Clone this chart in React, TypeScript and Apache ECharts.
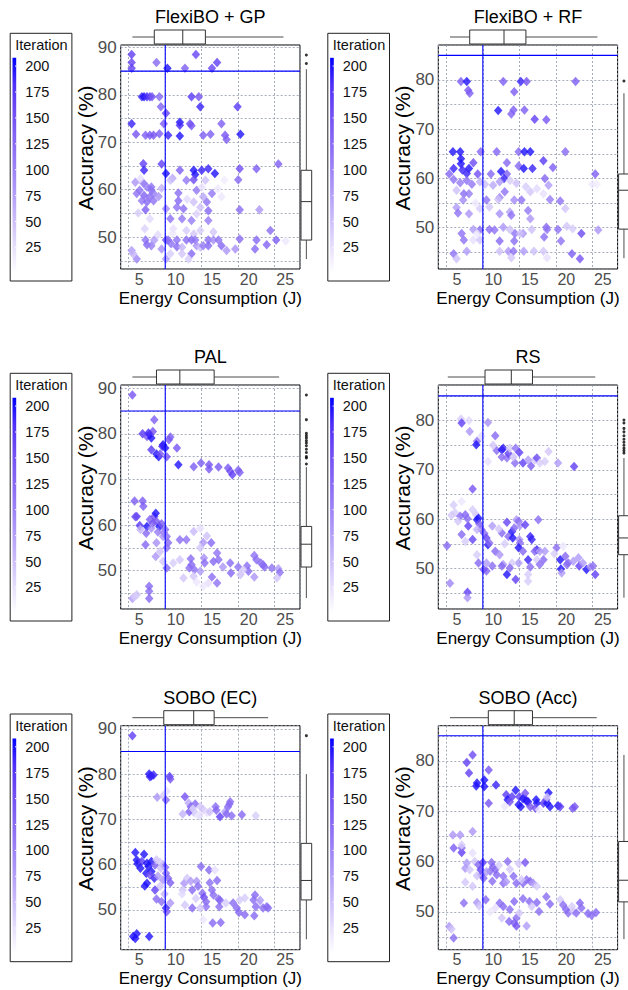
import React, { useEffect, useRef } from "react";
import * as echarts from "echarts";

type Pt = [number, number, number]; // [energy (J), accuracy (%), iteration]

const FONT = "'Liberation Sans', Arial, Helvetica, sans-serif";

const energyRange = [3.9, 28.46];
const energyThreshold = 10;
const accuracyThreshold = 85;
const iterationTicks = [25, 50, 75, 100, 125, 150, 175, 200];
const iterationMax = 208;
const iterationColors = ["#ffffff", "#e6defc", "#cbbcf9", "#b19cf7", "#9a80f5", "#8566f3", "#714cf3", "#4f30f6", "#0000ff"];

// ---------------- FlexiBO + GP ----------------
const gpPoints: Pt[] = [
  [5.4, 88.5, 170], [5.4, 86.8, 165], [5.4, 85.6, 170], [8.8, 86.8, 130], [10.3, 85.6, 198], [12.7, 85.6, 140], [14.2, 88.5, 165], [16.4, 85.6, 165], [17.1, 86.8, 170],
  [6.8, 79.6, 190], [7.1, 79.6, 198], [7.5, 79.6, 185], [7.9, 79.6, 175], [8.2, 79.6, 150], [9.2, 79.6, 130], [13.6, 79.6, 175], [14.6, 79.6, 150], [9.4, 77.5, 135], [14.8, 77.5, 190], [19.9, 77.5, 175], [10.1, 76.1, 170],
  [5.4, 73.9, 190], [9.8, 73.9, 140], [12.0, 74.2, 198], [12.0, 73.6, 185], [13.4, 73.9, 160], [13.6, 73.5, 150], [17.7, 73.9, 140],
  [6.0, 71.7, 150], [7.3, 71.5, 140], [7.9, 71.5, 145], [8.4, 71.5, 150], [9.2, 71.8, 140], [10.4, 71.5, 190], [12.0, 71.3, 198], [15.2, 71.5, 140], [16.2, 71.7, 140], [18.2, 71.5, 150], [18.4, 70.6, 140], [20.3, 71.7, 198],
  [7.0, 65.5, 170], [7.1, 64.1, 190], [9.5, 65.4, 170], [10.1, 63.4, 198], [12.0, 64.1, 140], [13.9, 64.1, 198], [14.1, 63.2, 198], [15.0, 64.1, 190], [15.9, 64.4, 190], [16.8, 63.4, 198], [20.2, 64.4, 155], [22.5, 64.4, 140], [25.5, 65.4, 140], [12.9, 62.0, 115], [13.9, 62.1, 160], [15.5, 62.0, 50], [20.0, 62.1, 130], [11.0, 62.4, 70],
  [5.9, 61.6, 85], [7.0, 61.4, 125], [6.5, 59.9, 120], [7.5, 60.6, 110], [8.1, 59.9, 130], [6.1, 59.2, 120], [7.1, 58.8, 135], [7.9, 58.5, 125], [8.4, 57.7, 120], [6.8, 57.7, 115], [7.5, 57.4, 130], [7.3, 55.8, 140], [8.1, 60.6, 120], [8.4, 59.2, 110], [6.3, 55.1, 40], [7.9, 53.9, 30], [7.2, 51.8, 35], [6.6, 62.3, 25], [9.5, 60.3, 60], [9.1, 58.6, 90],
  [10.7, 62.0, 50], [11.8, 59.3, 125], [11.8, 57.7, 130], [11.6, 56.3, 120], [12.5, 56.0, 125], [10.1, 56.0, 95], [10.7, 53.9, 120], [12.3, 53.9, 115], [13.6, 53.5, 110], [13.9, 57.4, 50], [14.3, 59.9, 115], [15.2, 58.5, 70], [15.7, 57.4, 120], [15.9, 55.6, 130], [16.4, 59.2, 115], [15.9, 53.5, 110], [16.6, 51.1, 45], [14.8, 51.4, 40], [13.9, 50.7, 45], [12.9, 51.4, 40], [11.1, 51.8, 25], [14.8, 56.3, 50], [14.3, 54.9, 35], [17.2, 60.2, 20], [18.1, 62.0, 15], [17.7, 58.5, 20], [13.0, 58.0, 30], [15.0, 60.5, 25],
  [20.2, 55.8, 125], [22.9, 55.8, 85], [22.5, 49.4, 130], [24.4, 51.4, 125], [23.9, 48.4, 135], [25.2, 49.4, 140], [20.2, 49.6, 125], [19.6, 47.5, 90], [22.3, 47.5, 130], [26.5, 49.2, 20],
  [7.3, 49.4, 120], [7.5, 48.4, 130], [8.5, 49.4, 80], [8.1, 48.2, 110], [10.1, 49.4, 150], [10.4, 49.4, 125], [10.8, 48.6, 120], [11.6, 49.4, 120], [11.6, 48.0, 130], [12.3, 47.9, 60], [12.9, 49.4, 125], [13.6, 49.4, 130], [14.1, 49.4, 120], [14.3, 48.2, 90], [14.8, 47.9, 50], [13.6, 46.5, 130], [12.3, 46.5, 45], [9.5, 47.5, 90], [10.1, 45.4, 80], [10.7, 46.5, 40], [15.9, 49.4, 125], [16.6, 49.4, 95], [15.9, 48.2, 130], [17.3, 49.4, 120], [17.7, 48.2, 130], [18.4, 47.2, 85], [15.2, 48.2, 110], [5.4, 47.2, 80], [6.1, 45.4, 100], [5.6, 46.5, 60], [13.2, 45.4, 40], [9.0, 50.5, 30], [11.0, 50.8, 20],
];
const gpEnergyBox = [5.5, 8.5, 12.4, 15.5, 26.2];
const gpAccuracyBox = [45.4, 49.4, 57.5, 64.1, 85.4];
const gpAccuracyOutliers = [88.4, 86.6];

// ---------------- FlexiBO + RF ----------------
const rfPoints: Pt[] = [
  [7.0, 79.7, 140], [7.8, 79.7, 198], [12.8, 79.7, 140], [15.2, 79.7, 190], [16.0, 79.7, 150], [22.7, 79.7, 140], [8.0, 77.9, 150], [8.2, 77.3, 140], [14.3, 77.6, 140],
  [12.1, 73.8, 198], [14.2, 73.9, 140], [13.9, 73.1, 135], [15.7, 73.9, 140], [17.1, 72.0, 170], [18.7, 71.9, 150],
  [5.9, 65.4, 198], [6.9, 65.4, 198], [9.7, 65.4, 130], [11.9, 65.4, 135], [14.9, 65.4, 130], [15.7, 65.4, 198], [16.5, 65.4, 198], [21.3, 65.4, 130],
  [7.0, 64.0, 198], [7.0, 63.0, 198], [6.0, 62.0, 190], [7.2, 61.7, 190], [8.7, 63.2, 160], [8.1, 62.0, 198], [7.8, 61.0, 190], [13.3, 63.2, 130], [14.9, 62.5, 130], [15.6, 62.0, 198], [16.8, 62.0, 190], [18.3, 63.6, 175], [19.6, 62.2, 140], [13.3, 60.9, 135], [9.3, 60.9, 155], [11.1, 60.9, 130], [12.9, 60.0, 190], [18.5, 60.0, 130], [25.4, 60.9, 140], [5.4, 60.9, 130], [12.5, 61.4, 198],
  [6.0, 59.8, 120], [6.9, 59.1, 110], [7.8, 59.6, 120], [8.5, 58.8, 115], [9.6, 59.3, 60], [10.3, 58.8, 50], [11.4, 58.6, 70], [12.3, 59.3, 80], [13.7, 59.6, 40], [14.6, 59.0, 50], [15.9, 58.3, 40], [17.4, 57.9, 30], [18.3, 56.9, 25], [19.0, 58.6, 80], [7.4, 56.9, 125], [8.1, 56.9, 110], [6.4, 57.6, 50], [7.3, 55.6, 95], [10.5, 55.6, 120], [12.3, 56.1, 100], [14.3, 55.6, 95], [15.3, 55.6, 120], [16.5, 57.3, 45], [19.2, 55.7, 110], [20.6, 55.4, 120], [13.0, 57.3, 120], [12.1, 55.7, 50], [25.0, 58.8, 20], [25.6, 58.8, 15],
  [6.4, 54.1, 80], [6.6, 53.0, 120], [8.1, 52.8, 85], [9.6, 53.9, 40], [10.9, 54.2, 45], [12.3, 52.8, 90], [13.7, 53.2, 75], [13.9, 52.5, 120], [16.2, 53.5, 115], [16.5, 51.8, 85], [21.3, 53.9, 45], [9.0, 55.0, 20],
  [7.1, 48.8, 120], [8.7, 49.6, 80], [9.6, 49.5, 125], [10.9, 49.6, 125], [11.6, 49.5, 120], [12.8, 50.1, 85], [13.7, 49.6, 50], [14.4, 48.8, 120], [15.5, 48.8, 85], [16.7, 49.6, 50], [18.7, 50.1, 125], [18.8, 49.6, 120], [20.3, 49.6, 120], [21.5, 50.3, 45], [22.3, 49.8, 40], [23.5, 48.8, 160], [25.8, 49.5, 85], [8.7, 47.5, 25], [9.6, 47.5, 45], [7.4, 47.5, 120], [12.3, 47.3, 130], [14.3, 47.3, 125], [15.1, 48.8, 50], [18.4, 48.1, 125], [20.7, 47.3, 120], [9.2, 48.8, 20],
  [6.0, 44.7, 120], [6.4, 43.7, 50], [7.8, 45.2, 80], [12.3, 45.2, 50], [13.5, 45.2, 85], [14.2, 45.2, 120], [13.9, 43.9, 45], [15.6, 45.2, 80], [17.0, 45.2, 50], [18.3, 45.2, 45], [18.8, 43.9, 25], [22.2, 44.7, 140], [23.3, 43.7, 150],
];
const rfEnergyBox = [5.5, 8.2, 12.9, 15.9, 25.7];
const rfAccuracyBox = [43.8, 49.7, 57.6, 60.9, 77.3];
const rfAccuracyOutliers = [79.8];

// ---------------- PAL ----------------
const palPoints: Pt[] = [
  [5.5, 88.5, 150], [8.5, 83.1, 140],
  [6.9, 80.0, 175], [7.5, 79.4, 150], [7.9, 79.8, 190], [8.1, 79.1, 198], [8.3, 80.5, 150], [8.1, 76.5, 175], [9.1, 75.0, 198], [8.8, 75.6, 198], [9.3, 75.6, 150], [9.7, 77.6, 198], [10.0, 76.9, 198], [10.2, 75.0, 150], [10.5, 78.7, 150], [10.7, 79.3, 140], [11.6, 76.9, 150], [11.8, 73.2, 198], [9.6, 77.3, 190], [7.7, 80.2, 185],
  [13.9, 72.8, 140], [14.9, 73.6, 140], [16.0, 73.2, 150], [16.0, 72.3, 145], [17.3, 72.7, 145], [18.6, 72.5, 145], [18.9, 71.8, 150], [19.2, 71.0, 170], [20.0, 72.0, 140], [20.2, 71.5, 140],
  [5.8, 65.3, 140], [6.9, 65.3, 140], [7.0, 64.1, 140], [6.1, 61.9, 170], [5.9, 61.8, 160], [6.5, 59.9, 175], [7.5, 59.7, 198], [7.4, 58.2, 130], [7.9, 61.2, 140], [8.3, 60.4, 150], [8.5, 61.9, 150], [8.8, 60.8, 145], [8.7, 62.6, 198], [9.2, 59.7, 198], [9.5, 60.3, 140], [10.0, 59.0, 125], [10.2, 57.5, 125], [10.4, 56.1, 130], [6.6, 59.0, 60], [7.3, 55.7, 130], [8.1, 59.3, 90], [8.8, 56.1, 90], [9.7, 57.5, 85], [10.2, 55.0, 120], [9.3, 54.2, 50], [8.7, 53.1, 85], [9.7, 52.0, 45], [10.2, 50.6, 130], [11.1, 51.7, 40], [12.0, 52.4, 45], [9.0, 58.5, 110], [9.8, 58.3, 100],
  [12.0, 56.8, 125], [12.9, 56.8, 120], [13.9, 58.6, 55], [14.8, 59.3, 25], [15.7, 57.6, 50], [16.3, 56.1, 130], [15.2, 56.2, 85], [14.8, 55.0, 45], [17.1, 53.9, 120], [15.3, 52.8, 90], [15.4, 51.7, 125], [16.6, 52.0, 130], [17.3, 52.4, 125], [13.5, 52.6, 125], [13.6, 51.3, 130], [13.3, 50.6, 125], [14.0, 50.2, 120], [14.8, 49.9, 80], [13.9, 48.8, 45], [16.4, 48.6, 125], [17.1, 47.3, 120], [15.2, 46.6, 20], [15.9, 47.3, 25], [18.9, 51.7, 125], [19.0, 49.5, 130], [17.9, 50.8, 85], [20.3, 49.1, 50], [20.0, 50.8, 120], [21.2, 51.0, 125], [21.4, 49.9, 125], [22.2, 53.3, 120], [22.5, 52.4, 125], [23.1, 51.7, 125], [23.4, 51.3, 120], [23.6, 50.8, 130], [24.6, 50.6, 120], [25.5, 50.4, 80], [25.7, 49.6, 120], [25.3, 48.4, 45], [22.2, 48.6, 85], [20.7, 50.2, 40], [14.3, 47.5, 20], [12.5, 48.4, 45],
  [5.5, 43.9, 80], [6.1, 44.7, 50], [5.8, 44.3, 40], [7.8, 46.6, 130], [7.8, 45.5, 125], [7.8, 43.9, 130],
];
const palEnergyBox = [5.5, 8.8, 12.0, 16.7, 25.6];
const palAccuracyBox = [44.0, 50.8, 55.8, 59.7, 72.7];
const palAccuracyOutliers = [88.5, 83.1, 80.1, 79.6, 79.1, 78.5, 78.0, 77.4, 76.6, 75.9, 75.0, 74.7, 73.4];

// ---------------- RS ----------------
const rsPoints: Pt[] = [
  [7.0, 80.3, 40], [7.1, 79.5, 170], [8.1, 80.0, 30], [8.2, 77.8, 85], [9.2, 75.8, 120], [9.1, 75.1, 198], [9.8, 76.8, 30], [10.7, 79.6, 90], [10.7, 71.7, 25], [11.7, 76.9, 130], [11.9, 73.9, 125], [12.6, 74.1, 198], [12.8, 74.4, 190], [12.6, 72.6, 130], [13.3, 72.4, 120], [13.5, 73.3, 165], [13.7, 74.4, 40], [14.5, 74.4, 120], [15.0, 73.5, 170], [15.5, 71.4, 170], [14.4, 71.4, 125], [16.6, 70.8, 140], [17.1, 72.0, 45], [17.4, 72.4, 160], [18.5, 71.7, 40], [17.8, 71.4, 40], [19.0, 73.7, 45], [20.3, 71.4, 80], [22.5, 70.7, 170], [16.2, 72.0, 80], [14.2, 72.6, 50], [11.4, 75.0, 45],
  [8.6, 66.1, 150],
  [6.0, 62.9, 40], [6.2, 61.3, 40], [7.1, 63.6, 20], [6.9, 60.6, 130], [7.6, 60.9, 135], [8.0, 58.6, 170], [8.6, 61.9, 40], [9.1, 60.9, 45], [9.2, 59.9, 198], [9.4, 60.2, 198], [9.5, 59.1, 140], [9.8, 57.9, 130], [10.2, 57.1, 125], [8.6, 55.9, 165], [7.6, 55.5, 40], [9.2, 57.9, 60], [10.5, 56.2, 165], [10.7, 54.8, 198], [11.3, 58.6, 80], [10.9, 55.2, 125], [11.7, 53.5, 130], [12.3, 52.8, 85], [12.6, 57.2, 130], [13.3, 59.4, 165], [13.5, 56.5, 130], [14.0, 57.5, 198], [14.1, 56.2, 198], [14.3, 58.2, 130], [14.6, 59.9, 80], [14.9, 59.6, 125], [15.1, 58.7, 85], [15.8, 58.9, 170], [15.0, 55.9, 85], [15.1, 55.2, 125], [14.9, 54.2, 198], [15.5, 53.5, 130], [16.5, 56.5, 190], [16.7, 55.9, 190], [17.6, 59.9, 125], [17.4, 53.8, 190], [17.1, 53.5, 130], [17.8, 53.5, 80], [18.5, 53.5, 80], [18.3, 51.8, 130], [17.4, 51.8, 40], [17.8, 50.8, 125], [16.5, 50.3, 125], [16.2, 51.8, 190], [14.9, 51.1, 80], [14.0, 51.1, 40], [13.7, 50.1, 130], [12.8, 50.8, 80], [13.3, 48.8, 198], [14.5, 47.8, 170], [16.2, 48.8, 40], [16.2, 47.4, 40], [12.6, 50.5, 130], [11.3, 50.5, 125], [9.4, 51.1, 130], [10.5, 49.5, 130], [10.1, 49.8, 150], [10.5, 51.1, 80], [9.2, 52.8, 40], [7.1, 56.9, 130], [6.6, 59.6, 45], [5.7, 60.8, 45], [7.9, 60.1, 125], [12.2, 58.0, 45], [13.0, 55.0, 40],
  [20.1, 54.2, 125], [20.6, 51.8, 198], [20.7, 49.9, 198], [20.8, 49.1, 80], [21.3, 52.5, 130], [21.7, 51.1, 130], [21.5, 50.8, 125], [22.4, 51.5, 80], [23.1, 52.2, 80], [23.2, 50.5, 170], [23.7, 51.1, 80], [24.2, 49.8, 198], [24.7, 50.3, 85], [25.1, 50.5, 125], [25.4, 48.8, 170], [21.0, 54.5, 20], [19.8, 53.0, 40],
  [5.1, 54.6, 130], [5.5, 47.0, 100], [7.9, 45.2, 170], [7.9, 44.1, 85],
];
const rsEnergyBox = [5.2, 10.3, 13.9, 16.8, 25.4];
const rsAccuracyBox = [44.1, 52.8, 56.2, 60.7, 72.4];
const rsAccuracyOutliers = [80.1, 79.5, 78.4, 77.7, 76.9, 76.2, 75.6, 75.0, 74.4, 73.9, 73.4];

// ---------------- SOBO (EC) ----------------
const soboEcPoints: Pt[] = [
  [5.5, 88.5, 170],
  [7.8, 80.0, 198], [8.1, 79.6, 198], [8.4, 79.8, 190], [10.6, 79.5, 175], [10.7, 78.9, 150], [7.9, 79.4, 190],
  [8.9, 74.9, 85], [9.7, 75.2, 40], [10.1, 74.3, 125], [10.2, 76.2, 25], [12.7, 75.0, 150], [12.4, 71.2, 60], [13.2, 73.6, 70], [13.5, 72.8, 130], [13.3, 71.7, 140], [14.1, 73.4, 130], [13.9, 71.7, 125], [14.8, 72.8, 45], [14.7, 70.8, 30], [15.2, 72.2, 45], [15.7, 71.5, 25], [16.1, 71.7, 50], [16.9, 72.8, 125], [17.0, 72.0, 130], [17.5, 70.6, 170], [18.2, 71.7, 80], [18.6, 72.8, 130], [18.9, 73.9, 125], [18.4, 71.2, 130], [18.8, 73.4, 125], [19.1, 70.8, 125], [20.5, 71.0, 130], [22.4, 70.8, 40], [14.2, 71.2, 20], [13.8, 72.3, 30],
  [5.9, 62.7, 198], [7.1, 62.3, 198], [6.1, 61.0, 198], [6.2, 60.2, 198], [6.8, 60.7, 175], [7.5, 60.3, 198], [7.7, 59.6, 198], [7.4, 58.1, 198], [6.6, 59.2, 198], [8.1, 60.7, 198], [8.6, 59.9, 140], [8.1, 58.5, 198], [7.9, 57.7, 150], [7.2, 55.3, 198], [7.5, 55.9, 198], [8.5, 57.0, 190], [8.6, 54.4, 170], [8.8, 52.4, 130], [9.7, 59.9, 125], [10.0, 59.4, 130], [10.1, 58.1, 125], [10.4, 57.0, 130], [10.7, 56.0, 140], [9.7, 56.6, 85], [9.3, 55.2, 45], [9.5, 51.8, 125], [10.1, 50.4, 190], [10.2, 49.6, 140], [10.7, 51.5, 85], [8.8, 61.1, 45], [9.3, 60.5, 40], [9.4, 59.2, 50], [9.0, 57.5, 80], [9.9, 53.5, 60],
  [12.6, 55.9, 85], [12.4, 54.4, 45], [13.0, 57.0, 45], [13.5, 56.3, 80], [13.7, 54.4, 130], [14.3, 56.3, 85], [14.5, 55.2, 125], [14.9, 59.6, 130], [15.1, 53.7, 125], [15.3, 52.8, 160], [15.6, 51.8, 130], [16.0, 58.8, 130], [16.1, 56.0, 125], [16.4, 54.4, 125], [16.6, 53.3, 125], [16.8, 58.8, 25], [17.1, 56.5, 130], [17.3, 52.4, 125], [17.4, 50.7, 125], [17.5, 52.1, 130], [15.6, 50.7, 120], [14.8, 50.4, 45], [13.7, 50.4, 130], [12.7, 51.1, 45], [15.2, 47.8, 20], [16.5, 47.1, 130], [17.6, 47.2, 130], [18.3, 51.5, 40], [19.3, 51.5, 125], [19.8, 50.4, 130], [20.1, 49.4, 130], [20.9, 48.9, 130], [20.2, 52.2, 40], [20.9, 52.6, 40], [22.3, 53.3, 130], [22.1, 52.2, 125], [22.8, 51.5, 40], [23.0, 52.1, 80], [23.4, 50.4, 125], [23.9, 50.7, 130], [24.1, 50.4, 125], [22.2, 48.7, 130], [22.4, 50.7, 125], [14.2, 52.5, 40], [12.3, 53.5, 30],
  [5.6, 44.1, 198], [6.1, 44.7, 198], [5.9, 43.7, 198], [7.8, 44.1, 198],
];
const soboEcEnergyBox = [5.5, 9.8, 13.9, 16.7, 24.1];
const soboEcAccuracyBox = [43.5, 52.2, 56.5, 64.7, 80.0];
const soboEcAccuracyOutliers = [88.5];

// ---------------- SOBO (Acc) ----------------
const soboAccPoints: Pt[] = [
  [7.8, 79.7, 170], [8.6, 81.2, 160], [8.1, 77.6, 170], [9.2, 75.6, 198], [9.1, 75.0, 198], [10.2, 76.2, 198], [10.2, 74.9, 198], [10.8, 78.2, 150], [10.8, 71.6, 150], [11.8, 75.2, 190], [13.2, 73.3, 175], [14.0, 72.9, 175], [13.4, 72.3, 198], [13.7, 71.9, 150], [14.5, 74.2, 198], [15.0, 72.9, 170], [15.2, 70.9, 198], [14.9, 71.3, 198], [15.8, 73.6, 150], [15.9, 72.3, 165], [16.2, 71.9, 198], [16.5, 70.9, 150], [17.3, 72.3, 198], [17.4, 71.6, 198], [17.2, 70.6, 150], [17.7, 70.3, 20], [18.3, 71.6, 175], [18.7, 72.3, 150], [18.8, 71.6, 198], [19.0, 73.7, 198], [19.2, 70.9, 198], [20.3, 71.1, 198], [20.6, 70.9, 175], [22.3, 70.6, 150], [22.6, 70.9, 150], [18.8, 72.8, 45], [16.0, 72.0, 190], [15.5, 72.5, 198], [13.0, 71.0, 20],
  [5.9, 65.3, 85], [6.9, 65.3, 85], [8.6, 66.0, 85], [6.0, 62.7, 140], [7.1, 61.8, 170], [7.1, 62.7, 130], [7.1, 63.3, 40], [8.6, 61.7, 25], [7.6, 58.7, 85], [8.2, 58.4, 45], [7.8, 59.7, 80], [8.9, 60.0, 45], [9.4, 59.4, 130], [10.0, 59.8, 170], [9.7, 58.4, 165], [9.8, 57.4, 140], [9.2, 57.2, 50], [8.6, 55.1, 45], [7.6, 55.9, 45], [10.1, 56.7, 130], [11.0, 58.1, 125], [11.2, 59.8, 125], [11.4, 59.0, 130], [11.7, 58.4, 125], [11.9, 57.4, 130], [11.3, 56.1, 125], [12.8, 55.7, 125], [12.8, 57.1, 120], [13.4, 60.0, 125], [13.7, 58.5, 45], [14.2, 57.1, 125], [14.6, 55.7, 130], [14.9, 59.6, 45], [15.8, 59.8, 150], [15.5, 55.7, 130], [16.0, 56.4, 125], [16.5, 56.1, 125], [16.9, 55.7, 85], [17.4, 55.1, 40], [15.3, 56.4, 45], [13.2, 56.0, 80], [10.5, 58.0, 80], [12.2, 59.3, 40],
  [7.4, 51.8, 125], [9.2, 51.9, 85], [9.5, 51.2, 45], [10.4, 52.4, 130], [11.7, 50.8, 25], [12.3, 51.8, 125], [12.8, 51.1, 130], [13.7, 50.5, 125], [14.3, 52.1, 130], [14.6, 48.8, 125], [15.0, 49.8, 45], [15.5, 52.6, 125], [16.4, 52.1, 130], [16.7, 51.1, 45], [17.4, 51.9, 130], [17.7, 50.1, 125], [18.7, 53.0, 125], [19.2, 51.6, 130], [20.6, 52.4, 40], [21.0, 51.4, 125], [21.4, 50.5, 130], [21.7, 49.8, 125], [22.2, 51.1, 40], [22.4, 50.1, 45], [23.3, 51.8, 130], [23.5, 50.8, 125], [24.4, 49.7, 130], [24.9, 49.3, 125], [25.5, 49.9, 130], [22.8, 49.8, 125], [13.6, 48.1, 130], [14.3, 47.8, 140], [14.6, 47.2, 150], [16.0, 47.2, 80], [12.6, 48.8, 45], [11.0, 50.0, 20],
  [5.4, 47.1, 85], [5.7, 46.6, 50], [6.0, 44.8, 125],
];
const soboAccEnergyBox = [5.5, 10.75, 14.3, 16.8, 25.6];
const soboAccAccuracyBox = [44.6, 52.0, 56.3, 64.0, 81.2];
const soboAccAccuracyOutliers: number[] = [];

// ---------------- panels ----------------
const panels = [
  { title: "FlexiBO + GP", points: gpPoints, energyBox: gpEnergyBox, accBox: gpAccuracyBox, accOutliers: gpAccuracyOutliers, yMin: 43.3, yMax: 90.5, col: 0, row: 0 },
  { title: "FlexiBO + RF", points: rfPoints, energyBox: rfEnergyBox, accBox: rfAccuracyBox, accOutliers: rfAccuracyOutliers, yMin: 41.6, yMax: 87.1, col: 1, row: 0 },
  { title: "PAL", points: palPoints, energyBox: palEnergyBox, accBox: palAccuracyBox, accOutliers: palAccuracyOutliers, yMin: 41.6, yMax: 90.7, col: 0, row: 1 },
  { title: "RS", points: rsPoints, energyBox: rsEnergyBox, accBox: rsAccuracyBox, accOutliers: rsAccuracyOutliers, yMin: 41.8, yMax: 87.2, col: 1, row: 1 },
  { title: "SOBO (EC)", points: soboEcPoints, energyBox: soboEcEnergyBox, accBox: soboEcAccuracyBox, accOutliers: soboEcAccuracyOutliers, yMin: 41.2, yMax: 90.7, col: 0, row: 2 },
  { title: "SOBO (Acc)", points: soboAccPoints, energyBox: soboAccEnergyBox, accBox: soboAccAccuracyBox, accOutliers: soboAccAccuracyOutliers, yMin: 42.5, yMax: 87.0, col: 1, row: 2 },
];

// layout
const colLeft = [120.7, 438.3];
const rowTop = [45, 385, 725.7];
const plotW = 179.3;
const plotH = 224;

const boxStroke = "#333333";
const thresholdColor = "#0000ff";

function hBox(params: any, api: any) {
  const v = [0, 1, 2, 3, 4].map((k) => api.value(k));
  const yTop = api.coord([v[0], 1])[1];
  const yBot = api.coord([v[0], 0])[1];
  const yMid = (yTop + yBot) / 2;
  const xs = v.map((val) => api.coord([val, 0.5])[0]);
  const ls = { stroke: "#4d4d4d", lineWidth: 1 };
  return {
    type: "group",
    children: [
      { type: "line", shape: { x1: xs[0], y1: yMid, x2: xs[1], y2: yMid }, style: ls },
      { type: "line", shape: { x1: xs[3], y1: yMid, x2: xs[4], y2: yMid }, style: ls },
      { type: "rect", shape: { x: xs[1], y: yTop, width: xs[3] - xs[1], height: yBot - yTop }, style: { fill: "#fff", stroke: boxStroke, lineWidth: 1 } },
      { type: "line", shape: { x1: xs[2], y1: yTop, x2: xs[2], y2: yBot }, style: { stroke: boxStroke, lineWidth: 1 } },
    ],
  };
}

function vBox(params: any, api: any) {
  const v = [0, 1, 2, 3, 4].map((k) => api.value(k));
  const xL = api.coord([0, v[0]])[0];
  const xR = api.coord([1, v[0]])[0];
  const xMid = (xL + xR) / 2;
  const ys = v.map((val) => api.coord([0.5, val])[1]);
  const ls = { stroke: "#4d4d4d", lineWidth: 1 };
  return {
    type: "group",
    children: [
      { type: "line", shape: { x1: xMid, y1: ys[0], x2: xMid, y2: ys[1] }, style: ls },
      { type: "line", shape: { x1: xMid, y1: ys[3], x2: xMid, y2: ys[4] }, style: ls },
      { type: "rect", shape: { x: xL, y: ys[3], width: xR - xL, height: ys[1] - ys[3] }, style: { fill: "#fff", stroke: boxStroke, lineWidth: 1 } },
      { type: "line", shape: { x1: xL, y1: ys[2], x2: xR, y2: ys[2] }, style: { stroke: boxStroke, lineWidth: 1 } },
    ],
  };
}

// threshold line drawn through the library's coordinate mapping (custom series, so no palette/visual interferes)
function thresholdRender(params: any, api: any) {
  const a = api.coord([api.value(0), api.value(1)]);
  const b = api.coord([api.value(2), api.value(3)]);
  return {
    type: "line",
    shape: { x1: a[0], y1: a[1], x2: b[0], y2: b[1] },
    style: { stroke: thresholdColor, lineWidth: 1.1, opacity: 1 },
    z2: 100,
  };
}

function buildOption() {
  const grid: any[] = [];
  const xAxis: any[] = [];
  const yAxis: any[] = [];
  const series: any[] = [];
  const visualMap: any[] = [];
  const title: any[] = [];
  const graphic: any[] = [];

  const gradStops = iterationColors
    .slice()
    .reverse()
    .map((c, i, arr) => ({ offset: i / (arr.length - 1), color: c }));
  const legScale = 1.036;

  panels.forEach((p, i) => {
    const L = colLeft[p.col];
    const T = rowTop[p.row];
    const g = i * 3;

    grid.push({ left: L, top: T, width: plotW, height: plotH, show: true, borderColor: "#000", borderWidth: 1, backgroundColor: "#fff", containLabel: false, outerBoundsMode: "none" });
    grid.push({ left: L, top: T - 15, width: plotW, height: 14, containLabel: false, outerBoundsMode: "none" });
    grid.push({ left: L + plotW + 1, top: T, width: 10.7, height: plotH, containLabel: false, outerBoundsMode: "none" });

    xAxis.push({
      type: "value",
      gridIndex: g,
      min: energyRange[0],
      max: energyRange[1],
      minInterval: 5,
      maxInterval: 5,
      splitNumber: 5,
      name: "Energy Consumption (J)",
      nameLocation: "middle",
      nameGap: 20.5,
      nameMoveOverlap: false,
      nameTextStyle: { fontSize: 17, color: "#000", fontFamily: FONT, verticalAlign: "top", lineHeight: 17 },
      axisLine: { show: false },
      axisTick: { show: false },
      axisLabel: {
        margin: 2,
        fontSize: 16,
        lineHeight: 16,
        color: "#4d4d4d",
        fontFamily: FONT,
        padding: [0, 0, 0, 21],
        formatter: (v: number) => (Math.abs(v / 5 - Math.round(v / 5)) < 1e-6 ? String(Math.round(v)) : ""),
      },
      splitLine: { show: true, lineStyle: { color: "#8e97aa", type: [2, 2], width: 0.8 } },
    });
    xAxis.push({ type: "value", gridIndex: g + 1, min: energyRange[0], max: energyRange[1], show: false });
    xAxis.push({ type: "value", gridIndex: g + 2, min: 0, max: 1, show: false });

    yAxis.push({
      type: "value",
      gridIndex: g,
      min: p.yMin,
      max: p.yMax,
      minInterval: 5,
      maxInterval: 5,
      splitNumber: 10,
      name: "Accuracy (%)",
      nameLocation: "middle",
      nameGap: 25,
      nameMoveOverlap: false,
      nameTextStyle: { fontSize: 21, color: "#000", fontFamily: FONT, padding: [0, 0, 0, 18] },
      axisLine: { show: false },
      axisTick: { show: false },
      axisLabel: {
        margin: 4,
        fontSize: 17,
        color: "#4d4d4d",
        fontFamily: FONT,
        formatter: (v: number) => (Math.abs(v / 10 - Math.round(v / 10)) < 1e-6 ? String(Math.round(v)) : ""),
      },
      splitLine: { show: true, lineStyle: { color: "#8e97aa", type: [2, 2], width: 0.8 } },
    });
    yAxis.push({ type: "value", gridIndex: g + 1, min: 0, max: 1, show: false });
    yAxis.push({ type: "value", gridIndex: g + 2, min: p.yMin, max: p.yMax, show: false });

    series.push({
      type: "scatter",
      name: p.title,
      xAxisIndex: g,
      yAxisIndex: g,
      data: p.points,
      symbol: "diamond",
      symbolSize: [8.5, 9.5],
      z: 2,
    });
    visualMap.push({
      type: "continuous",
      show: false,
      seriesIndex: series.length - 1,
      dimension: 2,
      min: 0,
      max: iterationMax,
      inRange: { color: iterationColors },
    });
    // threshold lines: accuracy = 85 % (across the energy range) and energy = 10 J (across the accuracy range)
    series.push({
      type: "custom",
      xAxisIndex: g,
      yAxisIndex: g,
      data: [
        [energyRange[0], accuracyThreshold, energyRange[1], accuracyThreshold],
        [energyThreshold, p.yMin, energyThreshold, p.yMax],
      ],
      encode: { x: [0, 2], y: [1, 3] },
      renderItem: thresholdRender,
      silent: true,
      clip: true,
      z: 10,
    });
    series.push({
      type: "custom",
      xAxisIndex: g + 1,
      yAxisIndex: g + 1,
      encode: { x: [0, 1, 2, 3, 4] },
      data: [p.energyBox],
      renderItem: hBox,
      silent: true,
    });
    series.push({
      type: "custom",
      xAxisIndex: g + 2,
      yAxisIndex: g + 2,
      encode: { y: [0, 1, 2, 3, 4] },
      data: [p.accBox],
      renderItem: vBox,
      silent: true,
    });
    series.push({
      type: "scatter",
      xAxisIndex: g + 2,
      yAxisIndex: g + 2,
      data: p.accOutliers.map((v) => [0.5, v]),
      symbol: "circle",
      symbolSize: 3,
      itemStyle: { color: "#000" },
      silent: true,
    });

    title.push({
      text: p.title,
      left: L + plotW / 2,
      top: T - 37,
      textAlign: "center",
      padding: 0,
      textStyle: { fontSize: 18, fontWeight: "normal", color: "#000", fontFamily: FONT },
    });

    // colour legend
    const lx = L - 110.5;
    const ly = T - 11.7;
    const barBottom = ly + 240;
    const children: any[] = [
      { type: "rect", shape: { x: lx, y: ly, width: 61.7, height: 247.7 }, style: { fill: "#fff", stroke: "#222", lineWidth: 1 } },
      { type: "text", x: lx + 5, y: ly + 11.7, style: { text: "Iteration", fontSize: 14.5, fontFamily: FONT, fill: "#111", verticalAlign: "middle", align: "left" } },
      {
        type: "rect",
        shape: { x: lx + 2.3, y: barBottom - iterationMax * legScale, width: 3.7, height: iterationMax * legScale },
        style: { fill: new echarts.graphic.LinearGradient(0, 0, 0, 1, gradStops) },
      },
    ];
    iterationTicks.forEach((t) => {
      const y = barBottom - t * legScale;
      children.push({ type: "text", x: lx + 15, y, style: { text: String(t), fontSize: 14.5, fontFamily: FONT, fill: "#111", verticalAlign: "middle", align: "left" } });
      children.push({ type: "line", shape: { x1: lx + 4.8, y1: y, x2: lx + 6, y2: y }, style: { stroke: "#fff", lineWidth: 1 } });
    });
    graphic.push({ type: "group", children });
  });

  return {
    animation: false,
    backgroundColor: "#fff",
    textStyle: { fontFamily: FONT },
    title,
    grid,
    xAxis,
    yAxis,
    visualMap,
    series,
    graphic,
  };
}

export default function App() {
  const ref = useRef<HTMLDivElement>(null);
  useEffect(() => {
    if (!ref.current) return;
    const chart = echarts.init(ref.current, null, { renderer: "svg" });
    chart.setOption(buildOption() as any);
    return () => chart.dispose();
  }, []);
  return <div ref={ref} style={{ position: "absolute", left: 0, top: 0, width: 628, height: 990 }} />;
}
